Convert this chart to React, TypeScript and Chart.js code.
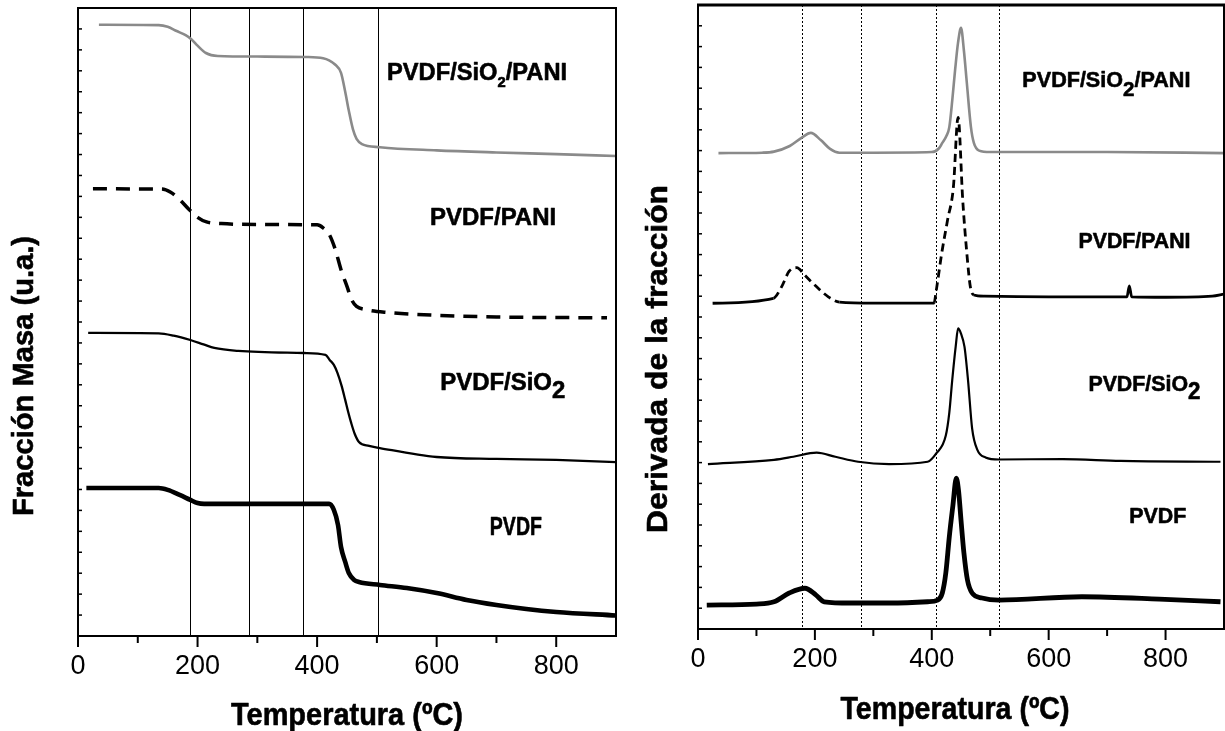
import { useEffect, useRef } from 'react';
import { Chart, registerables } from 'chart.js';

Chart.register(...registerables);

// ---- Thermogravimetric curves (mass fraction, arbitrary units, stacked) ----
const tgaSiPaniT = [35, 135, 150, 165, 180, 190, 200, 214, 234, 300, 380, 410, 420, 430, 440, 447, 453, 460, 466, 475, 505, 600, 700, 800, 900];
const tgaSiPaniM = [29.2, 29.18, 29.1, 28.9, 28.7, 28.5, 28.2, 27.85, 27.71, 27.68, 27.66, 27.6, 27.5, 27.3, 26.9, 26.0, 25.1, 24.2, 23.75, 23.5, 23.35, 23.2, 23.1, 23.02, 22.93];

const tgaPaniT = [25, 140, 155, 170, 185, 200, 215, 240, 300, 400, 410, 420, 430, 440, 450, 458, 466, 480, 520, 600, 700, 885];
const tgaPaniM = [21.36, 21.35, 21.2, 20.85, 20.4, 20.0, 19.78, 19.7, 19.66, 19.64, 19.5, 19.2, 18.5, 17.5, 16.7, 16.05, 15.75, 15.6, 15.45, 15.32, 15.24, 15.2];

const tgaSiT = [17, 135, 160, 188, 210, 228, 268, 378, 414, 421, 428, 434, 441, 447, 452, 457, 463, 470, 487, 505, 600, 700, 800, 900];
const tgaSiM = [14.48, 14.46, 14.35, 14.14, 13.93, 13.76, 13.62, 13.52, 13.43, 13.19, 12.95, 12.57, 11.95, 11.28, 10.7, 10.18, 9.65, 9.27, 9.08, 8.98, 8.55, 8.46, 8.41, 8.31];

const tgaPvdfT = [14, 135, 150, 170, 188, 200, 211, 420, 428, 435, 440, 447, 453, 462, 470, 505, 550, 600, 650, 700, 750, 800, 900];
const tgaPvdfM = [7.07, 7.07, 6.98, 6.74, 6.5, 6.35, 6.31, 6.31, 6.02, 5.3, 4.25, 3.54, 3.01, 2.68, 2.58, 2.44, 2.29, 2.05, 1.72, 1.48, 1.29, 1.15, 0.98];

// ---- Derivative curves (stacked) ----
const dtgSiPaniT = [35, 110, 130, 157, 177, 193, 210, 226, 242, 300, 400, 412, 418, 425, 430, 435, 440, 445, 450, 455, 460, 467, 472, 481, 500, 700, 900];
const dtgSiPaniD = [22.88, 22.9, 22.95, 23.22, 23.61, 23.85, 23.51, 23.08, 22.9, 22.9, 22.93, 23.1, 23.37, 23.7, 24.13, 25.4, 26.9, 28.2, 28.9, 27.8, 26.25, 24.13, 23.37, 23.0, 22.93, 22.93, 22.88];

const dtgPaniT = [25, 129, 143, 156, 169, 183, 203, 223, 242, 300, 404, 407, 417, 427, 437, 445, 453, 460, 466, 472, 490, 600, 734, 738, 742, 800, 880, 900];
const dtgPaniD = [15.66, 15.9, 16.45, 17.2, 17.37, 17.0, 16.45, 15.97, 15.72, 15.67, 15.67, 16.15, 18.06, 19.66, 21.25, 24.6, 20.6, 18.06, 16.45, 16.06, 16.0, 15.97, 15.97, 16.5, 15.97, 15.95, 16.0, 16.1];

const dtgSiT = [17, 130, 163, 203, 235, 274, 327, 393, 408, 424, 430, 435, 441, 445, 450, 456, 462, 469, 478, 492, 515, 624, 723, 894];
const dtgSiD = [7.93, 8.13, 8.28, 8.48, 8.28, 8.04, 7.93, 8.04, 8.45, 9.3, 10.4, 11.97, 13.6, 14.45, 14.2, 13.56, 11.97, 9.65, 8.61, 8.25, 8.15, 8.17, 8.08, 8.04];

const dtgPvdfT = [15, 100, 130, 156, 183, 202, 216, 260, 327, 393, 410, 418, 424, 430, 436, 442, 446, 450, 455, 461, 469, 486, 515, 657, 789, 894];
const dtgPvdfD = [1.15, 1.2, 1.31, 1.73, 1.96, 1.63, 1.31, 1.25, 1.25, 1.31, 1.39, 1.73, 2.69, 4.44, 5.9, 7.25, 6.6, 5.24, 3.65, 2.36, 1.73, 1.49, 1.39, 1.55, 1.44, 1.31];

// Reference temperatures marked on each panel
const tgaMarks = [187, 286, 376, 502];
const dtgMarks = [178, 279, 408, 515];

const xTickLabels = [0, 200, 400, 600, 800];

const FONT = "'Liberation Sans', Arial, Helvetica, sans-serif";
const GRAY = '#8a8a8a';

type Part = { text: string; sub?: boolean };
type Caption = { x: number; y: number; parts: Part[]; width: number; size: number; subSize: number; subDrop: number };

const pts = (t: number[], v: number[]) => t.map((x, i) => ({ x, y: v[i] }));

// Bold text squeezed horizontally to a given width, with optional subscripts
function drawFitted(ctx: CanvasRenderingContext2D, parts: Part[], x: number, y: number, width: number, size: number, subSize: number, subDrop: number) {
  ctx.save();
  let natural = 0;
  const widths: number[] = [];
  for (const p of parts) {
    ctx.font = `bold ${p.sub ? subSize : size}px ${FONT}`;
    const w = ctx.measureText(p.text).width;
    widths.push(w);
    natural += w;
  }
  ctx.translate(x, y);
  ctx.scale(width / natural, 1);
  ctx.fillStyle = '#000';
  ctx.strokeStyle = '#000';
  ctx.lineWidth = 0.6;
  ctx.lineJoin = 'round';
  ctx.textAlign = 'left';
  ctx.textBaseline = 'alphabetic';
  let cx = 0;
  parts.forEach((p, i) => {
    ctx.font = `bold ${p.sub ? subSize : size}px ${FONT}`;
    const dy = p.sub ? subDrop : 0;
    ctx.fillText(p.text, cx, dy);
    ctx.strokeText(p.text, cx, dy);
    cx += widths[i];
  });
  ctx.restore();
}

type Panel = {
  width: number;
  pad: { top: number; right: number };
  axisHeight: number;
  datasets: any[];
  marks: number[];
  markDash: number[];
  captions: Caption[];
  xTitle: { dx: number; baseline: number; width: number; size: number };
  yTitle: { text: string; baselineX: number; centerY: number; width: number; size: number };
  topBorder: number;
};

const sub2 = (a: string, b?: string): Part[] => (b === undefined ? [{ text: a }, { text: '2', sub: true }] : [{ text: a }, { text: '2', sub: true }, { text: b }]);

const tgaPanel: Panel = {
  width: 620,
  pad: { top: 8, right: 4 },
  axisHeight: 95,
  datasets: [
    { data: pts(tgaSiPaniT, tgaSiPaniM), borderColor: GRAY, borderWidth: 2.6 },
    { data: pts(tgaPaniT, tgaPaniM), borderColor: '#000', borderWidth: 3.5, borderDash: [14, 9] },
    { data: pts(tgaSiT, tgaSiM), borderColor: '#000', borderWidth: 2.3 },
    { data: pts(tgaPvdfT, tgaPvdfM), borderColor: '#000', borderWidth: 4.6 },
  ],
  marks: tgaMarks,
  markDash: [],
  captions: [
    { x: 517, y: 26.56, parts: sub2('PVDF/SiO', '/PANI'), width: 180, size: 24, subSize: 15, subDrop: 7 },
    { x: 589, y: 19.64, parts: [{ text: 'PVDF/PANI' }], width: 126, size: 24, subSize: 15, subDrop: 7 },
    { x: 606, y: 11.75, parts: sub2('PVDF/SiO'), width: 125, size: 24, subSize: 24, subDrop: 8 },
    { x: 689, y: 4.83, parts: [{ text: 'PVDF' }], width: 52, size: 25, subSize: 15, subDrop: 7 },
  ],
  xTitle: { dx: 0, baseline: 725, width: 232, size: 32 },
  yTitle: { text: 'Fracción Masa (u.a.)', baselineX: 33, centerY: 376, width: 280, size: 29 },
  topBorder: 2,
};

const dtgPanel: Panel = {
  width: 605,
  pad: { top: 5, right: 1 },
  axisHeight: 102,
  datasets: [
    { data: pts(dtgSiPaniT, dtgSiPaniD), borderColor: GRAY, borderWidth: 2.6 },
    {
      data: pts(dtgPaniT, dtgPaniD), borderColor: '#000', borderWidth: 2.8,
      segment: {
        borderDash: (c: any) => {
          const x = c.p0.parsed.x;
          return (x >= 129 && x < 242) || (x >= 404 && x < 472) ? [8, 5] : undefined;
        },
      },
    },
    { data: pts(dtgSiT, dtgSiD), borderColor: '#000', borderWidth: 2.2 },
    { data: pts(dtgPvdfT, dtgPvdfD), borderColor: '#000', borderWidth: 4.8 },
  ],
  marks: dtgMarks,
  markDash: [2, 2],
  captions: [
    { x: 555, y: 26.06, parts: sub2('PVDF/SiO', '/PANI'), width: 168, size: 22, subSize: 21, subDrop: 9 },
    { x: 651, y: 18.32, parts: [{ text: 'PVDF/PANI' }], width: 112, size: 22, subSize: 15, subDrop: 7 },
    { x: 668, y: 11.44, parts: sub2('PVDF/SiO'), width: 112, size: 22, subSize: 23, subDrop: 8 },
    { x: 738, y: 5.1, parts: [{ text: 'PVDF' }], width: 57, size: 22, subSize: 15, subDrop: 7 },
  ],
  xTitle: { dx: -6, baseline: 719, width: 229, size: 32 },
  yTitle: { text: 'Derivada de la fracción', baselineX: 47, centerY: 359, width: 348, size: 30 },
  topBorder: 3,
};

function buildChart(canvas: HTMLCanvasElement, panel: Panel) {
  const decor = {
    id: 'panelDecor',
    beforeDatasetsDraw(chart: any) {
      const { ctx, chartArea: a, scales } = chart;
      ctx.save();
      ctx.strokeStyle = '#000';
      ctx.lineWidth = 1;
      ctx.setLineDash(panel.markDash);
      for (const t of panel.marks) {
        const x = Math.round(scales.x.getPixelForValue(t)) + 0.5;
        ctx.beginPath();
        ctx.moveTo(x, a.top);
        ctx.lineTo(x, a.bottom);
        ctx.stroke();
      }
      ctx.restore();
    },
    afterDraw(chart: any) {
      const { ctx, chartArea: a, scales } = chart;
      ctx.save();
      ctx.strokeStyle = '#000';
      ctx.setLineDash([]);
      // frame
      ctx.lineWidth = 2;
      ctx.beginPath();
      ctx.moveTo(a.left, a.top);
      ctx.lineTo(a.left, a.bottom);
      ctx.lineTo(a.right, a.bottom);
      ctx.lineTo(a.right, a.top);
      ctx.stroke();
      ctx.lineWidth = panel.topBorder;
      ctx.beginPath();
      ctx.moveTo(a.left - 1, a.top);
      ctx.lineTo(a.right + 1, a.top);
      ctx.stroke();
      // x tick marks, outward
      ctx.lineWidth = 2;
      for (let t = 0; t <= 800; t += 100) {
        const x = scales.x.getPixelForValue(t);
        ctx.beginPath();
        ctx.moveTo(x, a.bottom);
        ctx.lineTo(x, a.bottom + (t % 200 === 0 ? 11 : 7));
        ctx.stroke();
      }
      // y tick marks, inward
      ctx.lineWidth = 1.5;
      for (let v = 1; v < 30; v += 1) {
        const y = scales.y.getPixelForValue(v);
        ctx.beginPath();
        ctx.moveTo(a.left, y);
        ctx.lineTo(a.left + 4, y);
        ctx.stroke();
      }
      // curve captions
      for (const c of panel.captions) {
        drawFitted(ctx, c.parts, scales.x.getPixelForValue(c.x), scales.y.getPixelForValue(c.y), c.width, c.size, c.subSize, c.subDrop);
      }
      // axis titles
      const xt = panel.xTitle;
      const cx = (a.left + a.right) / 2 + xt.dx;
      drawFitted(ctx, [{ text: 'Temperatura (ºC)' }], cx - xt.width / 2, xt.baseline, xt.width, xt.size, xt.size, 0);
      const yt = panel.yTitle;
      ctx.save();
      ctx.translate(yt.baselineX, yt.centerY);
      ctx.rotate(-Math.PI / 2);
      drawFitted(ctx, [{ text: yt.text }], -yt.width / 2, 0, yt.width, yt.size, yt.size, 0);
      ctx.restore();
      ctx.restore();
    },
  };

  return new Chart(canvas, {
    type: 'line',
    data: {
      datasets: panel.datasets.map((d) => ({ ...d, fill: false, pointRadius: 0, cubicInterpolationMode: 'monotone' })),
    },
    options: {
      responsive: false,
      animation: false,
      devicePixelRatio: 1,
      layout: { padding: { top: panel.pad.top, right: panel.pad.right, left: 0, bottom: 0 } },
      plugins: { legend: { display: false }, tooltip: { enabled: false } },
      scales: {
        x: {
          type: 'linear',
          min: 0,
          max: 900,
          grid: { display: false, drawTicks: false },
          border: { display: false },
          afterBuildTicks: (s: any) => {
            s.ticks = xTickLabels.map((v) => ({ value: v }));
          },
          ticks: {
            autoSkip: false,
            maxRotation: 0,
            padding: 14,
            color: '#000',
            font: { family: FONT, size: 27 },
            callback: (v: any) => String(v),
          },
          afterFit: (s: any) => {
            s.height = panel.axisHeight;
          },
        },
        y: {
          min: 0,
          max: 30,
          ticks: { display: false },
          grid: { display: false, drawTicks: false },
          border: { display: false },
          afterFit: (s: any) => {
            s.width = 78;
          },
        },
      },
    },
    plugins: [decor],
  } as any);
}

function PanelCanvas({ panel, left }: { panel: Panel; left: number }) {
  const ref = useRef<HTMLCanvasElement | null>(null);
  useEffect(() => {
    if (!ref.current) return;
    const chart = buildChart(ref.current, panel);
    return () => chart.destroy();
  }, [panel]);
  return (
    <canvas
      ref={ref}
      width={panel.width}
      height={731}
      style={{ position: 'absolute', left, top: 0, width: panel.width, height: 731 }}
    />
  );
}

export default function App() {
  return (
    <div style={{ position: 'fixed', left: 0, top: 0, width: 1225, height: 731, background: '#fff', overflow: 'hidden' }}>
      <PanelCanvas panel={tgaPanel} left={0} />
      <PanelCanvas panel={dtgPanel} left={620} />
    </div>
  );
}
